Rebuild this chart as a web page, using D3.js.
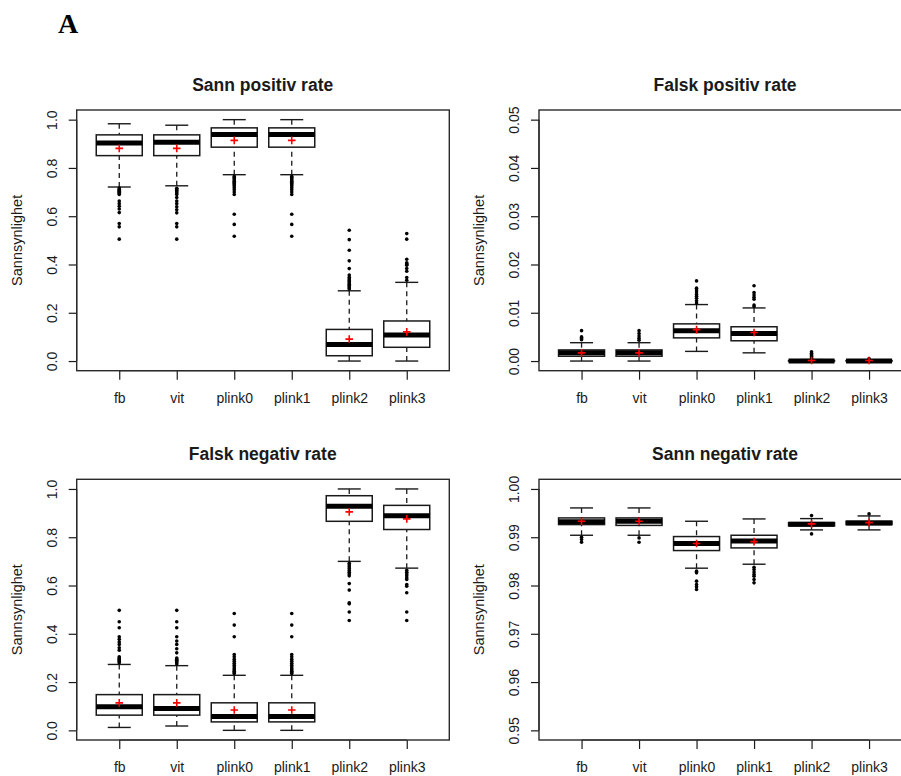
<!DOCTYPE html>
<html>
<head>
<meta charset="utf-8">
<script src="https://cdn.jsdelivr.net/npm/d3@7"></script>
<style>
  body { margin: 0; background: #fff; }
  svg { display: block; }
</style>
</head>
<body>
<svg id="chart" width="901" height="776"></svg>
<script>
// Method labels on the x axis (shared by all four panels)
const groups = ["fb", "vit", "plink0", "plink1", "plink2", "plink3"];

// --- Sann positiv rate: whisker ends, quartiles, median, mean, outliers ---
const tprLow  = [0.721, 0.726, 0.772, 0.772, 0.000, 0.000];
const tprQ1   = [0.851, 0.851, 0.886, 0.886, 0.022, 0.057];
const tprMed  = [0.903, 0.906, 0.939, 0.939, 0.069, 0.108];
const tprQ3   = [0.937, 0.937, 0.966, 0.966, 0.131, 0.166];
const tprHigh = [0.983, 0.977, 1.000, 1.000, 0.291, 0.326];
const tprMean = [0.881, 0.881, 0.914, 0.914, 0.091, 0.121];
const tprOut  = [
  [0.717, 0.712, 0.708, 0.703, 0.699, 0.695, 0.690, 0.663, 0.652, 0.641, 0.630, 0.615, 0.570, 0.556, 0.505],
  [0.716, 0.711, 0.706, 0.701, 0.696, 0.690, 0.677, 0.663, 0.652, 0.639, 0.627, 0.614, 0.570, 0.556, 0.505],
  [0.765, 0.760, 0.755, 0.750, 0.745, 0.740, 0.735, 0.730, 0.725, 0.718, 0.710, 0.700, 0.690, 0.608, 0.566, 0.517],
  [0.765, 0.760, 0.755, 0.750, 0.745, 0.740, 0.735, 0.730, 0.725, 0.718, 0.710, 0.700, 0.690, 0.608, 0.566, 0.517],
  [0.298, 0.303, 0.308, 0.313, 0.318, 0.323, 0.328, 0.334, 0.340, 0.347, 0.356, 0.383, 0.415, 0.459, 0.503, 0.542],
  [0.335, 0.346, 0.372, 0.383, 0.397, 0.400, 0.403, 0.407, 0.422, 0.505, 0.528]
];

// --- Falsk positiv rate ---
const fprLow  = [0.0000, 0.0000, 0.0020, 0.0017, 0.0000, 0.0000];
const fprQ1   = [0.0010, 0.0010, 0.0048, 0.0042, 0.0000, 0.0000];
const fprMed  = [0.0017, 0.0017, 0.0063, 0.0057, 0.0000, 0.0000];
const fprQ3   = [0.0023, 0.0023, 0.0077, 0.0071, 0.0001, 0.0001];
const fprHigh = [0.0038, 0.0038, 0.0117, 0.0110, 0.0003, 0.0002];
const fprMean = [0.0017, 0.0017, 0.0065, 0.0059, 0.0001, 0.0001];
const fprOut  = [
  [0.0044, 0.0046, 0.0048, 0.0050, 0.0063],
  [0.0043, 0.0047, 0.0052, 0.0057, 0.0063],
  [0.0120, 0.0125, 0.0130, 0.0134, 0.0138, 0.0143, 0.0147, 0.0151, 0.0166],
  [0.0113, 0.0116, 0.0128, 0.0132, 0.0137, 0.0142, 0.0156],
  [0.0005, 0.0007, 0.0009, 0.0011, 0.0013, 0.0016, 0.0019],
  [0.0005]
];

// --- Falsk negativ rate ---
const fnrLow  = [0.012, 0.018, 0.000, 0.000, 0.700, 0.672];
const fnrQ1   = [0.063, 0.063, 0.035, 0.035, 0.866, 0.832];
const fnrMed  = [0.098, 0.091, 0.057, 0.057, 0.928, 0.889];
const fnrQ3   = [0.148, 0.148, 0.114, 0.114, 0.972, 0.932];
const fnrHigh = [0.273, 0.268, 0.228, 0.228, 1.000, 1.000];
const fnrMean = [0.114, 0.114, 0.084, 0.084, 0.905, 0.876];
const fnrOut  = [
  [0.280, 0.284, 0.288, 0.292, 0.296, 0.300, 0.305, 0.332, 0.342, 0.356, 0.366, 0.377, 0.388, 0.425, 0.450, 0.497],
  [0.275, 0.280, 0.285, 0.290, 0.295, 0.300, 0.321, 0.338, 0.356, 0.370, 0.388, 0.425, 0.450, 0.497],
  [0.235, 0.240, 0.245, 0.250, 0.255, 0.262, 0.270, 0.278, 0.286, 0.295, 0.305, 0.314, 0.388, 0.436, 0.484],
  [0.235, 0.240, 0.245, 0.250, 0.255, 0.262, 0.270, 0.278, 0.286, 0.295, 0.305, 0.314, 0.388, 0.436, 0.484],
  [0.692, 0.685, 0.678, 0.670, 0.662, 0.655, 0.648, 0.640, 0.608, 0.581, 0.528, 0.524, 0.490, 0.455],
  [0.663, 0.655, 0.648, 0.640, 0.632, 0.625, 0.604, 0.597, 0.570, 0.490, 0.455]
];

// --- Sann negativ rate ---
const tnrLow  = [0.99041, 0.99041, 0.98359, 0.98441, 0.99152, 0.99152];
const tnrQ1   = [0.99262, 0.99245, 0.98724, 0.98779, 0.99235, 0.99262];
const tnrMed  = [0.99320, 0.99331, 0.98869, 0.98924, 0.99269, 0.99297];
const tnrQ3   = [0.99400, 0.99400, 0.99014, 0.99041, 0.99303, 0.99331];
const tnrHigh = [0.99607, 0.99607, 0.99331, 0.99379, 0.99386, 0.99441];
const tnrMean = [0.99331, 0.99331, 0.98869, 0.98910, 0.99276, 0.99303];
const tnrOut  = [
  [0.99000, 0.98952, 0.98897],
  [0.98986, 0.98897],
  [0.98297, 0.98262, 0.98090, 0.98021, 0.97972, 0.97917],
  [0.98379, 0.98330, 0.98280, 0.98230, 0.98193, 0.98124, 0.98055],
  [0.99448, 0.99069],
  [0.99483]
];

// Panel titles and y tick values
const titles = ["Sann positiv rate", "Falsk positiv rate", "Falsk negativ rate", "Sann negativ rate"];
const ticksUnit = [0, 0.2, 0.4, 0.6, 0.8, 1.0];
const ticksFpr  = [0, 0.01, 0.02, 0.03, 0.04, 0.05];
const ticksTnr  = [0.95, 0.96, 0.97, 0.98, 0.99, 1.00];
const yLabel = "Sannsynlighet";

function makeStats(lo, q1, med, q3, hi, mean, out) {
  return groups.map((g, i) => ({ name: g, i: i + 1, lo: lo[i], q1: q1[i], med: med[i], q3: q3[i], hi: hi[i], mean: mean[i], out: out[i] }));
}

const panels = [
  { title: titles[0], x0: 76.7, x1: 449.3, y0: 110, y1: 370.7, lim: [0, 1], ticks: ticksUnit, fmt: d3.format(".1f"),
    data: makeStats(tprLow, tprQ1, tprMed, tprQ3, tprHigh, tprMean, tprOut) },
  { title: titles[1], x0: 539, x1: 911.6, y0: 110, y1: 370.7, lim: [0, 0.05], ticks: ticksFpr, fmt: d3.format(".2f"),
    data: makeStats(fprLow, fprQ1, fprMed, fprQ3, fprHigh, fprMean, fprOut) },
  { title: titles[2], x0: 76.7, x1: 449.3, y0: 479.3, y1: 740, lim: [0, 1], ticks: ticksUnit, fmt: d3.format(".1f"),
    data: makeStats(fnrLow, fnrQ1, fnrMed, fnrQ3, fnrHigh, fnrMean, fnrOut) },
  { title: titles[3], x0: 539, x1: 911.6, y0: 479.3, y1: 740, lim: [0.95, 1.0], ticks: ticksTnr, fmt: d3.format(".2f"),
    data: makeStats(tnrLow, tnrQ1, tnrMed, tnrQ3, tnrHigh, tnrMean, tnrOut) }
];

const svg = d3.select("#chart");
svg.append("rect").attr("width", 901).attr("height", 776).attr("fill", "#fff");

// Figure letter
svg.append("text")
  .attr("x", 68).attr("y", 33)
  .attr("text-anchor", "middle")
  .attr("font-family", "'Liberation Serif', 'DejaVu Serif', serif")
  .attr("font-weight", "bold")
  .attr("font-size", 28)
  .attr("fill", "#000")
  .text("A");

const ink = "#1a1a1a";
const font = "'Liberation Sans', Arial, sans-serif";

panels.forEach(p => {
  const g = svg.append("g");
  // R-style 4% padding on both axes
  const xs = d3.scaleLinear().domain([0.26, 6.74]).range([p.x0, p.x1]);
  const span = p.lim[1] - p.lim[0];
  const ys = d3.scaleLinear().domain([p.lim[0] - 0.04 * span, p.lim[1] + 0.04 * span]).range([p.y1, p.y0]);
  const boxHalf = xs(1.4) - xs(1);      // boxwex 0.8
  const capHalf = boxHalf * 0.5;        // staplewex 0.5

  // Title
  g.append("text")
    .attr("x", p.x0 + 186)
    .attr("y", p.y0 - 19.5)
    .attr("text-anchor", "middle")
    .attr("font-family", font).attr("font-weight", "bold").attr("font-size", 17.5)
    .attr("fill", ink)
    .text(p.title);

  // Y axis title
  g.append("text")
    .attr("transform", `translate(${p.x0 - 60},${(p.y0 + p.y1) / 2}) rotate(-90)`)
    .attr("dy", "0.35em")
    .attr("text-anchor", "middle")
    .attr("font-family", font).attr("font-size", 14.5)
    .attr("fill", ink)
    .text(yLabel);

  // Y axis
  const ya = g.append("g")
    .attr("transform", `translate(${p.x0},0)`)
    .call(d3.axisLeft(ys).tickValues(p.ticks).tickFormat(p.fmt).tickSize(8).tickSizeOuter(0));
  ya.select(".domain")
    .attr("d", `M0,${ys(p.ticks[0])}V${ys(p.ticks[p.ticks.length - 1])}`)
    .attr("stroke", ink).attr("stroke-width", 1.2);
  ya.selectAll(".tick line").attr("stroke", ink).attr("stroke-width", 1.2);
  ya.selectAll(".tick text")
    .attr("x", null)
    .attr("transform", "translate(-25,0) rotate(-90)")
    .attr("dy", "0.35em")
    .attr("text-anchor", "middle")
    .attr("font-family", font).attr("font-size", 14)
    .attr("fill", ink);

  // X axis
  const xa = g.append("g")
    .attr("transform", `translate(0,${p.y1})`)
    .call(d3.axisBottom(xs).tickValues(d3.range(1, 7)).tickFormat(d => groups[d - 1]).tickSize(9).tickPadding(13.5).tickSizeOuter(0));
  xa.select(".domain").attr("d", `M${xs(1)},0H${xs(6)}`).attr("stroke", ink).attr("stroke-width", 1.2);
  xa.selectAll(".tick line").attr("stroke", ink).attr("stroke-width", 1.2);
  xa.selectAll(".tick text").attr("font-family", font).attr("font-size", 14).attr("fill", ink);

  // Plot frame
  g.append("rect")
    .attr("x", p.x0).attr("y", p.y0)
    .attr("width", p.x1 - p.x0).attr("height", p.y1 - p.y0)
    .attr("fill", "none").attr("stroke", "#2a2a2a").attr("stroke-width", 1.4);

  const box = g.selectAll("g.box").data(p.data).join("g").attr("class", "box");

  // Dashed whiskers, drawn from staple to box edge
  box.append("line")
    .attr("x1", d => xs(d.i)).attr("x2", d => xs(d.i))
    .attr("y1", d => ys(d.hi)).attr("y2", d => ys(d.q3))
    .attr("stroke", ink).attr("stroke-width", 1.3).attr("stroke-dasharray", "5,4");
  box.append("line")
    .attr("x1", d => xs(d.i)).attr("x2", d => xs(d.i))
    .attr("y1", d => ys(d.lo)).attr("y2", d => ys(d.q1))
    .attr("stroke", ink).attr("stroke-width", 1.3).attr("stroke-dasharray", "5,4");

  // Staples
  ["hi", "lo"].forEach(k => {
    box.append("line")
      .attr("x1", d => xs(d.i) - capHalf).attr("x2", d => xs(d.i) + capHalf)
      .attr("y1", d => ys(d[k])).attr("y2", d => ys(d[k]))
      .attr("stroke", ink).attr("stroke-width", 1.4);
  });

  // Boxes
  box.append("rect")
    .attr("x", d => xs(d.i) - boxHalf)
    .attr("y", d => ys(d.q3))
    .attr("width", 2 * boxHalf)
    .attr("height", d => Math.max(0, ys(d.q1) - ys(d.q3)))
    .attr("fill", "#fff").attr("stroke", ink).attr("stroke-width", 1.5);

  // Medians
  box.append("line")
    .attr("x1", d => xs(d.i) - boxHalf).attr("x2", d => xs(d.i) + boxHalf)
    .attr("y1", d => ys(d.med)).attr("y2", d => ys(d.med))
    .attr("stroke", "#000").attr("stroke-width", 5);

  // Outliers
  box.each(function (d) {
    d3.select(this).selectAll("circle").data(d.out).join("circle")
      .attr("cx", xs(d.i)).attr("cy", v => ys(v))
      .attr("r", 1.8).attr("fill", "#000");
  });

  // Means (red plus)
  box.append("path")
    .attr("d", d => {
      const cx = xs(d.i), cy = ys(d.mean), s = 3.8;
      return `M${cx - s},${cy}H${cx + s}M${cx},${cy - s}V${cy + s}`;
    })
    .attr("stroke", "#ff0000").attr("stroke-width", 1.6).attr("fill", "none");
});
</script>
</body>
</html>
